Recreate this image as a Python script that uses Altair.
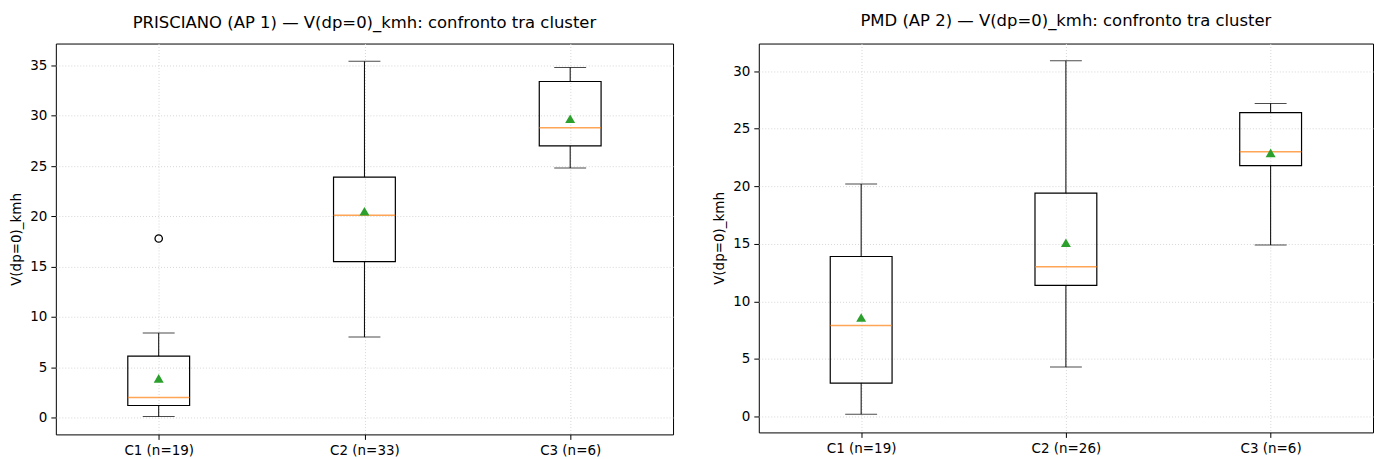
import altair as alt
import pandas as pd

# ---- PRISCIANO (AP 1)
cats_p = ["C1 (n=19)", "C2 (n=33)", "C3 (n=6)"]
lo_p = [0.1, 8.0, 24.8]
q1_p = [1.2, 15.5, 27.0]
med_p = [2.0, 20.1, 28.8]
q3_p = [6.1, 23.9, 33.4]
hi_p = [8.4, 35.4, 34.8]
mean_p = [3.9, 20.5, 29.7]
out_cat_p = ["C1 (n=19)"]
out_val_p = [17.8]

# ---- PMD (AP 2)
cats_m = ["C1 (n=19)", "C2 (n=26)", "C3 (n=6)"]
lo_m = [0.2, 4.3, 14.9]
q1_m = [2.9, 11.4, 21.8]
med_m = [7.9, 13.0, 23.0]
q3_m = [13.9, 19.4, 26.4]
hi_m = [20.2, 30.9, 27.2]
mean_m = [8.6, 15.1, 22.9]
out_cat_m = []
out_val_m = []

FONT = "DejaVu Sans"
YTITLE = "V(dp=0)_kmh"


def panel(title, cats, lo, q1, med, q3, hi, mean, oc, ov, domain, ticks, w, h, toff):
    df = pd.DataFrame(dict(cat=cats, lo=lo, q1=q1, med=med, q3=q3, hi=hi, mean=mean))
    xaxis = alt.Axis(title=None, labelAngle=0, grid=True, gridDash=[1, 2],
                     gridColor="#d6d6d6", domain=False, tickColor="black",
                     labelColor="black", labelFontSize=13.5, labelFont=FONT,
                     tickSize=5, labelPadding=4)
    yaxis = alt.Axis(title=YTITLE, values=ticks, grid=True, gridDash=[1, 2],
                     gridColor="#d6d6d6", domain=False, tickColor="black",
                     labelColor="black", labelFontSize=13.5, labelFont=FONT,
                     titleFont=FONT, titleFontSize=13.5, titleFontWeight="normal",
                     titleColor="black", tickSize=5, labelPadding=4, titlePadding=6)
    xenc = alt.X("cat:N", sort=cats, scale=alt.Scale(type="point", padding=0.5, domain=cats), axis=xaxis)
    ysc = alt.Scale(domain=domain, nice=False, zero=False)
    base = alt.Chart(df)
    wlo = base.mark_rule(color="black", strokeWidth=1).encode(
        x=xenc, y=alt.Y("lo:Q", scale=ysc, axis=yaxis), y2="q1:Q")
    whi = base.mark_rule(color="black", strokeWidth=1).encode(
        x=xenc, y=alt.Y("q3:Q", scale=ysc, axis=yaxis), y2="hi:Q")
    cap_lo = base.mark_tick(color="black", size=32, thickness=1).encode(
        x=xenc, y=alt.Y("lo:Q", scale=ysc, axis=yaxis))
    cap_hi = base.mark_tick(color="black", size=32, thickness=1).encode(
        x=xenc, y=alt.Y("hi:Q", scale=ysc, axis=yaxis))
    box = base.mark_bar(size=62, fill="white", fillOpacity=0, stroke="black", strokeWidth=1.2).encode(
        x=xenc, y=alt.Y("q1:Q", scale=ysc, axis=yaxis), y2="q3:Q")
    medm = base.mark_tick(color="#ff7f0e", size=62, thickness=1.5).encode(
        x=xenc, y=alt.Y("med:Q", scale=ysc, axis=yaxis))
    meanm = base.mark_point(shape="triangle-up", filled=True, color="#2ca02c", size=100, opacity=1).encode(
        x=xenc, y=alt.Y("mean:Q", scale=ysc, axis=yaxis))
    layers = [wlo, whi, cap_lo, cap_hi, box, medm, meanm]
    if len(oc) > 0:
        odf = pd.DataFrame(dict(cat=oc, v=ov))
        outm = alt.Chart(odf).mark_point(shape="circle", filled=False, color="black",
                                         strokeWidth=1.3, size=55, opacity=1).encode(
            x=xenc, y=alt.Y("v:Q", scale=ysc, axis=yaxis))
        layers.append(outm)
    return alt.layer(*layers).properties(
        width=w, height=h,
        title=alt.TitleParams(title, font=FONT, fontSize=16.5, fontWeight="normal",
                              color="black", offset=toff))


left = panel("PRISCIANO (AP 1) — V(dp=0)_kmh: confronto tra cluster",
             cats_p, lo_p, q1_p, med_p, q3_p, hi_p, mean_p, out_cat_p, out_val_p,
             [-1.67, 37.17], [0, 5, 10, 15, 20, 25, 30, 35], 619, 392, 12)
right = panel("PMD (AP 2) — V(dp=0)_kmh: confronto tra cluster",
              cats_m, lo_m, q1_m, med_m, q3_m, hi_m, mean_m, out_cat_m, out_val_m,
              [-1.38, 32.4], [0, 5, 10, 15, 20, 25, 30], 616, 390, 14)

chart = alt.hconcat(left, right, spacing=38).configure(
    padding={"left": 9, "top": 12, "right": 2, "bottom": 2}
).configure_view(stroke="black", strokeWidth=1).configure_concat(spacing=38)

chart.save("out.html", embed_options={"renderer": "svg", "actions": False})
